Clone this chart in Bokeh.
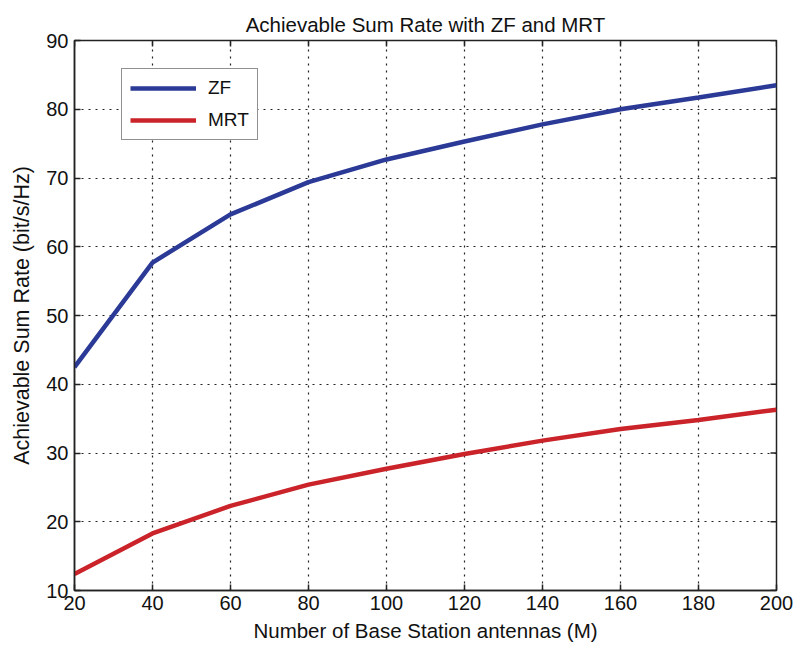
import math
from bokeh.plotting import figure
from bokeh.models import Range1d, Legend, LegendItem, FixedTicker
from bokeh.embed import file_html
from bokeh.resources import INLINE

M = [20, 40, 60, 80, 100, 120, 140, 160, 180, 200]
ZF = [42.5, 57.7, 64.7, 69.4, 72.7, 75.3, 77.8, 80.0, 81.7, 83.5]
MRT = [12.4, 18.3, 22.3, 25.4, 27.7, 29.85, 31.8, 33.5, 34.8, 36.3]
x_ticks = [20, 40, 60, 80, 100, 120, 140, 160, 180, 200]
y_ticks = [10, 20, 30, 40, 50, 60, 70, 80, 90]

FONT = "Liberation Sans"
BLUE = "#2B3A96"
RED = "#CA2329"
X_MIN, X_MAX = 20, 200
Y_MIN, Y_MAX = 10, 90

p = figure(frame_width=702, frame_height=550, width=793, height=652,
           output_backend="svg", toolbar_location=None,
           x_range=Range1d(X_MIN, X_MAX), y_range=Range1d(Y_MIN, Y_MAX),
           min_border_left=74, min_border_top=40, min_border_right=17, min_border_bottom=62,
           title="Achievable Sum Rate with ZF and MRT")
p.title.align = "center"
p.title.text_font = FONT
p.title.text_font_size = "20.5px"
p.title.text_font_style = "normal"
p.title.text_color = "#111111"

p.outline_line_color = "#222222"
p.outline_line_width = 1.5
p.background_fill_color = "white"
p.border_fill_color = "white"

for ax in (p.xaxis[0], p.yaxis[0]):
    ax.major_tick_in = 6
    ax.major_tick_out = 0
    ax.minor_tick_in = 0
    ax.minor_tick_out = 0
    ax.axis_line_color = "#222222"
    ax.axis_line_width = 1.5
    ax.major_tick_line_color = "#222222"
    ax.major_tick_line_width = 1.5
    ax.major_label_text_font = FONT
    ax.major_label_text_font_size = "20px"
    ax.major_label_text_color = "#111111"
    ax.axis_label_text_font = FONT
    ax.axis_label_text_font_style = "normal"
    ax.axis_label_text_color = "#111111"

p.xaxis[0].ticker = FixedTicker(ticks=x_ticks)
p.yaxis[0].ticker = FixedTicker(ticks=y_ticks)
p.xaxis[0].axis_label = "Number of Base Station antennas (M)"
p.yaxis[0].axis_label = "Achievable Sum Rate (bit/s/Hz)"
p.xaxis[0].axis_label_text_font_size = "20.5px"
p.yaxis[0].axis_label_text_font_size = "21.5px"
p.xaxis[0].major_label_standoff = 5
p.yaxis[0].major_label_standoff = 6
p.xaxis[0].axis_label_standoff = 6
p.yaxis[0].axis_label_standoff = 9

for g in (p.xgrid[0], p.ygrid[0]):
    g.grid_line_color = "#222222"
    g.grid_line_dash = "2 5"
    g.grid_line_width = 1.2
p.xgrid[0].ticker = FixedTicker(ticks=x_ticks)
p.ygrid[0].ticker = FixedTicker(ticks=y_ticks)

# inward ticks on the top and right edges of the box (clipped to the frame)
p.scatter(x_ticks, [Y_MAX] * len(x_ticks), marker="dash", size=12, angle=math.pi / 2,
          line_color="#222222", line_width=1.5)
p.scatter([X_MAX] * len(y_ticks), y_ticks, marker="dash", size=12,
          line_color="#222222", line_width=1.5)

r1 = p.line(M, ZF, line_color=BLUE, line_width=4.5)
r2 = p.line(M, MRT, line_color=RED, line_width=4.5)

legend = Legend(items=[LegendItem(label="ZF", renderers=[r1]),
                       LegendItem(label="MRT", renderers=[r2])],
                location=(47, 450))
legend.margin = 0
legend.padding = 8
legend.spacing = 10
legend.glyph_width = 66
legend.glyph_height = 20
legend.label_height = 20
legend.label_standoff = 12
legend.label_text_font = FONT
legend.label_text_font_size = "19px"
legend.label_text_color = "#111111"
legend.border_line_color = "#222222"
legend.border_line_width = 1.5
legend.background_fill_alpha = 1.0
p.add_layout(legend, "center")

open("out.html", "w").write(file_html(p, INLINE))
